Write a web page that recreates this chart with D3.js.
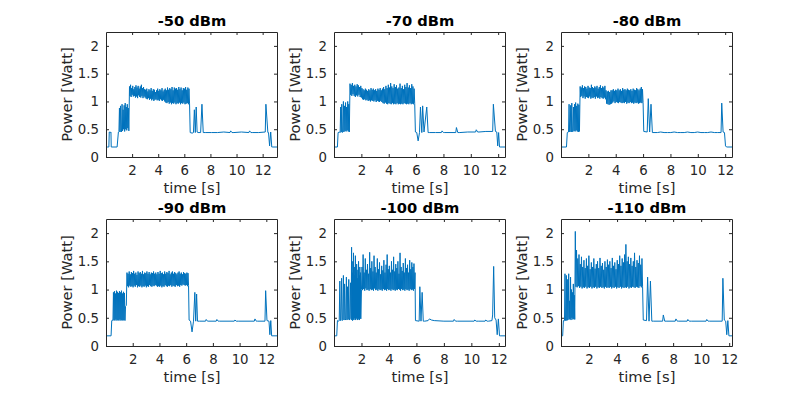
<!DOCTYPE html>
<html>
<head>
<meta charset="utf-8">
<script src="https://cdnjs.cloudflare.com/ajax/libs/d3/7.8.5/d3.min.js"></script>
<style>
body { margin: 0; background: #fff; }
svg { display: block; font-family: "DejaVu Sans", sans-serif; }
</style>
</head>
<body>
<svg id="viz" width="809" height="396"></svg>
<script>
// each series is a list of [tStart, tEnd, values] pieces, values read off the picture
// and spread evenly over the piece
var power50 = [
  [0.00, 0.22, [0.18, 0.18, 0.18]],
  [0.25, 0.38, [0.45, 0.44, 0.45]],
  [0.40, 0.85, [0.18, 0.18]],
  [0.95, 1.75, [0.45, 0.46, 0.88, 0.45, 0.92, 0.46, 0.45, 0.95, 0.47, 0.85, 0.5, 0.93, 0.46, 0.97, 0.5, 0.9, 0.48, 0.95, 0.52, 0.88, 0.47]],
  [1.80, 3.00, [1.27, 1.1, 1.3, 1.08, 1.24, 1.12, 1.28, 1.09, 1.22, 1.1, 1.26, 1.07, 1.29, 1.09, 1.25, 1.06, 1.28, 1.11, 1.23, 1.08, 1.27, 1.07, 1.3, 1.1, 1.24, 1.06, 1.26, 1.09, 1.22, 1.07]],
  [3.04, 4.50, [1.21, 1.05, 1.23, 1.04, 1.18, 1.06, 1.22, 1.03, 1.2, 1.05, 1.24, 1.02, 1.19, 1.04, 1.22, 1.01, 1.21, 1.03, 1.17, 1.04, 1.2, 1.02, 1.23, 1.03, 1.19, 1.01, 1.22, 1.04, 1.2, 1.02, 1.24, 1.01, 1.18, 1.03, 1.21, 1.0]],
  [4.54, 6.40, [1.23, 0.98, 1.2, 0.97, 1.25, 0.99, 1.21, 0.96, 1.24, 0.98, 1.22, 0.95, 1.26, 0.97, 1.2, 0.96, 1.25, 0.98, 1.23, 0.95, 1.24, 0.97, 1.21, 0.96, 1.26, 0.98, 1.22, 0.95, 1.25, 0.97, 1.2, 0.96, 1.24, 0.98, 1.23, 0.95, 1.26, 0.96, 1.21, 0.97, 1.25, 0.95, 1.23, 0.97]],
  [6.45, 6.60, [0.44, 0.43]],
  [6.70, 7.05, [0.44, 0.85, 0.44, 0.9, 0.45, 0.44]],
  [7.25, 7.45, [0.44, 0.95, 0.44]],
  [7.60, 9.50, [0.44, 0.44, 0.44, 0.45, 0.44]],
  [9.55, 9.65, [0.47, 0.44]],
  [9.80, 10.95, [0.44, 0.45, 0.44]],
  [11.0, 11.1, [0.47, 0.44]],
  [11.2, 12.2, [0.44, 0.44, 0.45]],
  [12.25, 12.4, [0.95, 0.44]],
  [12.45, 12.7, [0.44, 0.2, 0.45, 0.18]],
  [12.75, 13.1, [0.18, 0.18]]
];

var power70 = [
  [0.00, 0.25, [0.18, 0.18]],
  [0.30, 0.42, [0.44, 0.45]],
  [0.45, 1.12, [0.44, 0.9, 0.45, 0.95, 0.44, 0.46, 1.0, 0.45, 0.92, 0.47, 0.98, 0.46, 0.9, 0.48, 1.0, 0.46, 0.95, 0.45]],
  [1.17, 2.00, [1.32, 1.12, 1.3, 1.1, 1.33, 1.13, 1.28, 1.1, 1.3, 1.08, 1.27, 1.11, 1.31, 1.09, 1.29, 1.12, 1.26, 1.08, 1.28, 1.07]],
  [2.04, 3.50, [1.24, 1.04, 1.22, 1.03, 1.2, 1.04, 1.23, 1.02, 1.21, 1.03, 1.19, 1.01, 1.22, 1.02, 1.2, 1.0, 1.24, 1.02, 1.21, 1.01, 1.23, 1.0, 1.2, 1.02, 1.22, 0.99, 1.19, 1.01, 1.23, 1.0, 1.21, 0.99, 1.24, 1.01, 1.2, 0.99]],
  [3.54, 5.90, [1.23, 0.97, 1.26, 0.96, 1.22, 0.98, 1.28, 0.96, 1.24, 0.95, 1.3, 0.97, 1.25, 0.96, 1.33, 0.95, 1.27, 0.97, 1.24, 0.95, 1.31, 0.96, 1.26, 0.95, 1.29, 0.97, 1.23, 0.95,
                1.25, 0.96, 1.32, 0.95, 1.24, 0.96, 1.28, 0.95, 1.22, 0.97, 1.3, 0.96, 1.26, 0.95, 1.33, 0.96, 1.25, 0.95, 1.29, 0.97, 1.24, 0.95, 1.31, 0.96, 1.27, 0.95, 1.23, 0.96]],
  [5.95, 6.25, [0.45, 0.44, 0.29, 0.44]],
  [6.32, 6.42, [0.9, 0.44]],
  [6.48, 6.58, [0.92, 0.45]],
  [6.78, 6.88, [0.9, 0.44]],
  [7.00, 7.85, [0.44, 0.44, 0.44]],
  [7.90, 8.00, [0.47, 0.44]],
  [8.10, 8.90, [0.44, 0.44]],
  [8.95, 9.05, [0.53, 0.44]],
  [9.20, 10.35, [0.44, 0.45, 0.45]],
  [10.4, 10.5, [0.49, 0.45]],
  [10.6, 11.6, [0.45, 0.46, 0.46]],
  [11.65, 11.8, [0.95, 0.46]],
  [11.90, 12.1, [0.45, 0.2, 0.44, 0.18]],
  [12.20, 12.5, [0.18, 0.18]]
];

var power80 = [
  [0.00, 0.40, [0.18, 0.18]],
  [0.46, 0.52, [0.44, 0.45]],
  [0.55, 1.35, [0.45, 0.95, 0.45, 0.46, 0.93, 0.45, 0.97, 0.46, 0.45, 0.9, 0.47, 0.95, 0.46, 0.98, 0.48, 0.92, 0.46, 0.96, 0.45, 0.94, 0.46]],
  [1.40, 3.25, [1.27, 1.08, 1.25, 1.1, 1.29, 1.06, 1.24, 1.09, 1.27, 1.05, 1.26, 1.08, 1.23, 1.07, 1.28, 1.06, 1.25, 1.09, 1.24, 1.05, 1.3, 1.07, 1.26,
                1.06, 1.24, 1.08, 1.27, 1.05, 1.25, 1.09, 1.28, 1.06, 1.23, 1.07, 1.26, 1.05, 1.29, 1.08, 1.24, 1.06, 1.27, 1.05, 1.25, 1.07, 1.28, 1.04]],
  [3.29, 3.70, [1.2, 0.96, 1.18, 0.95, 1.19, 0.94, 1.17, 0.95, 1.2, 0.96]],
  [3.74, 6.00, [1.2, 0.98, 1.22, 1.0, 1.19, 0.97, 1.21, 0.99, 1.2, 0.98, 1.23, 0.97, 1.2, 0.99, 1.22, 0.98, 1.19, 0.97, 1.24, 0.98, 1.21, 0.97, 1.22, 0.99, 1.2, 0.96, 1.23,
                0.98, 1.21, 0.97, 1.2, 0.99, 1.22, 0.97, 1.19, 0.98, 1.23, 0.96, 1.21, 0.98, 1.2, 0.97, 1.24, 0.98, 1.22, 0.96, 1.2, 0.97, 1.23, 0.98, 1.26, 0.97, 1.22, 0.98]],
  [6.05, 6.30, [0.46, 0.45]],
  [6.38, 6.48, [1.05, 0.45]],
  [6.58, 6.68, [0.95, 0.44]],
  [6.80, 11.7, [0.44, 0.44, 0.45, 0.44, 0.44, 0.44, 0.45, 0.44, 0.44, 0.44, 0.45, 0.44, 0.44, 0.45, 0.44, 0.44, 0.44, 0.45, 0.44, 0.44, 0.44]],
  [11.75, 11.85, [0.97, 0.45]],
  [11.95, 12.1, [0.44, 0.2, 0.18]],
  [12.20, 12.5, [0.18, 0.18]]
];

var power90 = [
  [0.00, 0.38, [0.18, 0.18]],
  [0.43, 0.50, [0.45, 0.46]],
  [0.52, 1.42, [0.45, 0.95, 0.46, 0.97, 0.45, 0.93, 0.47, 0.98, 0.45, 0.96, 0.46, 0.94, 0.45, 0.97, 0.47, 0.95, 0.45, 0.98, 0.46, 0.93, 0.45, 0.96, 0.46, 0.94, 0.45]],
  [1.46, 1.52, [0.7, 0.72]],
  [1.57, 3.85, [1.3, 1.06, 1.28, 1.04, 1.32, 1.07, 1.27, 1.05, 1.31, 1.06, 1.29, 1.04, 1.33, 1.07, 1.28, 1.05, 1.3, 1.08, 1.26, 1.04, 1.32, 1.06, 1.29, 1.05, 1.31, 1.07, 1.28, 1.04,
                1.33, 1.06, 1.27, 1.05, 1.3, 1.07, 1.29, 1.04, 1.32, 1.06, 1.28, 1.05, 1.31, 1.08, 1.27, 1.06, 1.3, 1.05, 1.29, 1.07, 1.32, 1.06, 1.28, 1.08, 1.3, 1.07, 1.27, 1.05]],
  [3.89, 6.18, [1.31, 1.06, 1.28, 1.05, 1.33, 1.07, 1.29, 1.04, 1.3, 1.06, 1.27, 1.05, 1.32, 1.08, 1.28, 1.06, 1.31, 1.05, 1.29, 1.07, 1.33, 1.06, 1.27, 1.08, 1.3, 1.05, 1.32, 1.07,
                1.28, 1.06, 1.31, 1.05, 1.29, 1.08, 1.27, 1.06, 1.3, 1.07, 1.32, 1.05, 1.28, 1.08, 1.3, 1.07, 1.27, 1.09, 1.31, 1.08, 1.29, 1.07, 1.28, 1.08, 1.3, 1.06, 1.29, 1.07]],
  [6.22, 6.55, [0.46, 0.44, 0.25, 0.44]],
  [6.65, 6.85, [0.95, 0.44, 0.92, 0.44]],
  [7.00, 7.45, [0.44, 0.44]],
  [7.50, 7.60, [0.47, 0.44]],
  [7.70, 8.25, [0.44, 0.44]],
  [8.30, 8.40, [0.47, 0.44]],
  [8.50, 9.60, [0.44, 0.44]],
  [9.65, 9.75, [0.46, 0.44]],
  [9.90, 11.1, [0.44, 0.44]],
  [11.15, 11.25, [0.48, 0.44]],
  [11.35, 11.9, [0.44, 0.44]],
  [11.95, 12.05, [0.98, 0.45]],
  [12.20, 12.4, [0.44, 0.2, 0.45, 0.18]],
  [12.50, 12.8, [0.18, 0.18]]
];

var power100 = [
  [0.00, 0.20, [0.18, 0.18]],
  [0.25, 0.35, [0.45, 0.44]],
  [0.38, 1.25, [0.45, 1.15, 0.45, 0.46, 1.2, 0.45, 0.47, 1.25, 0.46, 1.1, 0.46, 0.48, 1.22, 0.46, 1.05, 0.47, 1.18, 0.46, 0.5, 1.12, 0.47]],
  [1.28, 1.95, [1.75, 0.46, 1.3, 0.45, 1.5, 0.48, 1.65, 0.46, 1.25, 0.5, 1.4, 0.47, 1.6, 0.46, 1.3, 0.5, 1.45, 0.48, 1.2, 0.46, 1.35, 0.49, 1.5, 0.47, 1.25, 0.46, 1.4, 0.5, 1.3, 0.48]],
  [2.00, 3.95, [1.0, 1.4, 0.99, 1.62, 1.01, 1.3, 0.98, 1.55, 1.02, 1.35, 0.99, 1.45, 1.0, 1.28, 0.98, 1.66, 1.01, 1.38, 0.99, 1.5, 1.0, 1.32, 0.98, 1.6, 1.02,
                1.4, 0.99, 1.3, 1.0, 1.55, 0.98, 1.36, 1.01, 1.48, 0.99, 1.27, 1.0, 1.42, 0.98, 1.34, 1.01, 1.52, 0.99, 1.3, 1.0, 1.44, 0.98, 1.62, 1.01, 1.36]],
  [3.99, 5.90, [0.99, 1.42, 1.0, 1.3, 0.98, 1.5, 1.01, 1.35, 0.99, 1.58, 1.0, 1.32, 0.98, 1.45, 1.0, 1.38, 0.99, 1.5, 1.01, 1.28, 1.0, 1.65, 0.98, 1.4, 1.01,
                1.33, 0.99, 1.47, 1.0, 1.3, 0.98, 1.55, 1.01, 1.38, 0.99, 1.44, 1.0, 1.3, 0.98, 1.52, 1.01, 1.36, 0.99, 1.48, 1.0, 1.4, 0.98, 1.46, 1.01, 1.3]],
  [5.93, 6.20, [0.45, 0.44]],
  [6.25, 6.50, [1.05, 0.44, 0.95, 0.44]],
  [6.60, 6.85, [0.44, 0.45]],
  [6.95, 7.10, [0.48, 0.46]],
  [7.30, 8.70, [0.45, 0.44, 0.44]],
  [8.75, 8.85, [0.47, 0.44]],
  [9.00, 10.2, [0.44, 0.44]],
  [10.25, 10.35, [0.46, 0.44]],
  [10.5, 11.0, [0.44, 0.44]],
  [11.05, 11.15, [0.46, 0.44]],
  [11.25, 11.5, [0.44, 0.45]],
  [11.55, 11.7, [0.55, 1.41, 0.5]],
  [11.80, 12.05, [0.46, 0.2, 0.48, 0.18]],
  [12.15, 12.45, [0.18, 0.18]]
];

var power110 = [
  [0.00, 0.12, [0.18, 0.18]],
  [0.17, 0.22, [0.45, 0.44]],
  [0.25, 0.98, [0.45, 1.28, 0.45, 0.46, 1.25, 0.45, 1.18, 0.46, 0.5, 1.28, 0.47, 0.8, 0.48, 1.22, 0.46, 1.0, 0.5, 0.95, 0.47, 1.1, 0.48, 0.9, 0.47]],
  [1.02, 3.40, [2.03, 1.05, 1.7, 1.04, 1.55, 1.06, 1.62, 1.03, 1.45, 1.05, 1.58, 1.02, 1.4, 1.04, 1.52, 1.03, 1.38, 1.05, 1.55, 1.02, 1.42, 1.04, 1.6, 1.03, 1.36, 1.05, 1.48,
                1.02, 1.4, 1.04, 1.55, 1.03, 1.37, 1.05, 1.45, 1.02, 1.5, 1.04, 1.38, 1.03, 1.56, 1.05, 1.42, 1.03, 1.47, 1.04, 1.35, 1.02, 1.5, 1.05, 1.4, 1.03, 1.53, 1.04, 1.44]],
  [3.44, 5.82, [1.03, 1.5, 1.05, 1.38, 1.02, 1.56, 1.04, 1.42, 1.03, 1.48, 1.05, 1.36, 1.02, 1.52, 1.04, 1.45, 1.03, 1.6, 1.05, 1.42, 1.02, 1.55, 1.04, 1.48, 1.03, 1.62, 1.04,
                1.8, 1.03, 1.5, 1.05, 1.58, 1.02, 1.45, 1.04, 1.56, 1.03, 1.42, 1.05, 1.5, 1.04, 1.65, 1.03, 1.4, 1.05, 1.52, 1.04, 1.47, 1.03, 1.6, 1.06, 1.44, 1.04, 1.55, 1.06]],
  [5.87, 6.10, [0.46, 0.45]],
  [6.18, 6.48, [1.22, 0.44, 1.15, 0.44]],
  [6.60, 7.25, [0.44, 0.44]],
  [7.30, 7.40, [0.55, 0.44]],
  [7.50, 8.15, [0.44, 0.44]],
  [8.20, 8.30, [0.48, 0.44]],
  [8.40, 9.00, [0.44, 0.44]],
  [9.05, 9.15, [0.47, 0.44]],
  [9.30, 10.35, [0.44, 0.44]],
  [10.4, 10.5, [0.47, 0.44]],
  [10.6, 11.5, [0.44, 0.44]],
  [11.55, 11.65, [1.2, 0.46]],
  [11.75, 11.98, [0.44, 0.2, 0.45, 0.18]],
  [12.05, 12.2, [0.18, 0.18]]
];

var series = [power50, power70, power80, power90, power100, power110];
var titles = ["-50 dBm", "-70 dBm", "-80 dBm", "-90 dBm", "-100 dBm", "-110 dBm"];
var xMax = [13.1, 12.5, 12.5, 12.8, 12.45, 12.2];
var xTicks = [2, 4, 6, 8, 10, 12];
var yTicks = [0, 0.5, 1, 1.5, 2];
var yTickLabels = ["0", "0.5", "1", "1.5", "2"];

var svg = d3.select("#viz");
var boxW = 171;
var colLeft = [106, 334, 561];
var rowTop = [32, 219];
var rowBottom = [157, 346];
var axisColor = "#262626";

function expand(segs) {
  var pts = [];
  segs.forEach(function(s) {
    var n = s[2].length;
    s[2].forEach(function(v, i) {
      pts.push([s[0] + (s[1] - s[0]) * i / (n - 1), v]);
    });
  });
  return pts;
}

function styleAxis(g) {
  g.attr("font-size", 13.3).attr("font-family", "DejaVu Sans, sans-serif").attr("color", axisColor);
  g.selectAll("path.domain").attr("stroke-width", 1);
}

series.forEach(function(segs, i) {
  var left = colLeft[i % 3];
  var top = rowTop[Math.floor(i / 3)];
  var bottom = rowBottom[Math.floor(i / 3)];

  var x = d3.scaleLinear().domain([0, xMax[i]]).range([left, left + boxW]);
  var y = d3.scaleLinear().domain([0, 2.25]).range([bottom, top]);

  var g = svg.append("g");

  g.append("clipPath").attr("id", "clip" + i)
    .append("rect")
    .attr("x", left).attr("y", top)
    .attr("width", boxW).attr("height", bottom - top);

  // the trace
  g.append("path")
    .datum(expand(segs))
    .attr("clip-path", "url(#clip" + i + ")")
    .attr("fill", "none")
    .attr("stroke", "#0072bd")
    .attr("stroke-width", 1)
    .attr("stroke-linejoin", "round")
    .attr("d", d3.line().x(function(d) { return x(d[0]); }).y(function(d) { return y(d[1]); }));

  // box with inward ticks on all four sides
  g.append("g").attr("transform", "translate(0," + bottom + ")")
    .call(d3.axisBottom(x).tickValues(xTicks).tickSizeInner(-3).tickSizeOuter(0).tickPadding(8.5))
    .call(styleAxis);
  g.append("g").attr("transform", "translate(0," + top + ")")
    .call(d3.axisTop(x).tickValues(xTicks).tickSizeInner(-3).tickSizeOuter(0).tickFormat(""))
    .call(styleAxis);
  g.append("g").attr("transform", "translate(" + left + ",0)")
    .call(d3.axisLeft(y).tickValues(yTicks).tickSizeInner(-3).tickSizeOuter(0).tickPadding(7)
      .tickFormat(function(d, k) { return yTickLabels[k]; }))
    .call(styleAxis);
  g.append("g").attr("transform", "translate(" + (left + boxW) + ",0)")
    .call(d3.axisRight(y).tickValues(yTicks).tickSizeInner(-3).tickSizeOuter(0).tickFormat(""))
    .call(styleAxis);

  // labels
  g.append("text")
    .attr("x", left + boxW / 2 + 0.5).attr("y", bottom + 36)
    .attr("text-anchor", "middle")
    .attr("font-size", 14.7).attr("fill", axisColor)
    .text("time [s]");

  g.append("text")
    .attr("transform", "translate(" + (left - 34) + "," + ((top + bottom) / 2) + ") rotate(-90)")
    .attr("text-anchor", "middle")
    .attr("font-size", 14.7).attr("fill", axisColor)
    .text("Power [Watt]");

  g.append("text")
    .attr("x", left + boxW / 2 + 0.5).attr("y", top - 6)
    .attr("text-anchor", "middle")
    .attr("font-size", 14.7).attr("font-weight", "bold").attr("fill", "#000")
    .text(titles[i]);
});
</script>
</body>
</html>
